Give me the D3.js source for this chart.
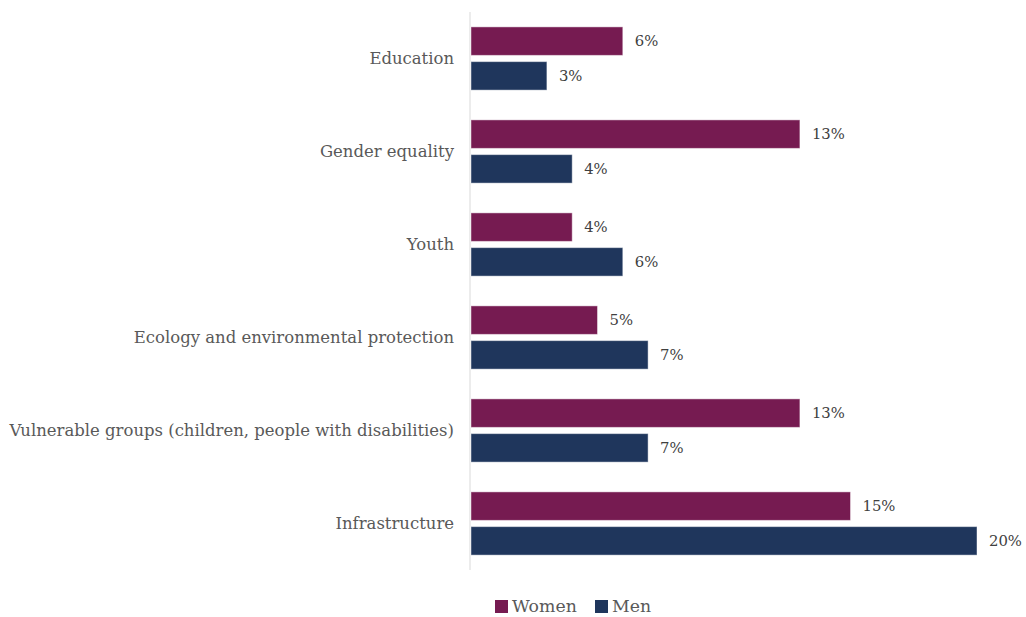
<!DOCTYPE html>
<html>
<head>
<meta charset="utf-8">
<script src="https://cdn.jsdelivr.net/npm/d3@7"></script>
<style>
  html, body { margin: 0; padding: 0; background: #fff; }
</style>
</head>
<body>
<svg id="chart" width="1026" height="617"></svg>
<script>
// Share of respondents naming each area, by gender (%)
const categories = [
  "Education",
  "Gender equality",
  "Youth",
  "Ecology and environmental protection",
  "Vulnerable groups (children, people with disabilities)",
  "Infrastructure"
];
const seriesNames = ["Women", "Men"];
const women = [6, 13, 4, 5, 13, 15];
const men   = [3, 4, 6, 7, 7, 20];
const colors = ["#761b51", "#1f365c"];

const FONT = "'DejaVu Serif', 'Liberation Serif', serif";

const svg = d3.select("#chart").attr("font-family", FONT);
const margin = { top: 12, left: 470, right: 48, bottom: 47 };
const width = 1026, height = 617;

const rows = categories.map((c, i) => ({ cat: c, values: [women[i], men[i]] }));

const y = d3.scaleBand()
  .domain(categories)
  .range([margin.top, height - margin.bottom])
  .paddingInner(0.32)
  .paddingOuter(0.16);

const ySub = d3.scaleBand()
  .domain(seriesNames)
  .range([0, y.bandwidth()])
  .paddingInner(0.18);

const x = d3.scaleLinear()
  .domain([0, 20])
  .range([margin.left, margin.left + 506]);

// Vertical category axis line
svg.append("line")
  .attr("x1", margin.left).attr("x2", margin.left)
  .attr("y1", margin.top).attr("y2", height - margin.bottom)
  .attr("stroke", "#d9d9d9").attr("stroke-width", 1);

// Category labels; the font size is tuned so the longest label spans ~445px
const yAxis = d3.axisLeft(y).tickSize(0).tickPadding(16);
const ga = svg.append("g").attr("transform", `translate(${margin.left},0)`).call(yAxis);
ga.attr("font-family", FONT);
ga.select(".domain").remove();
const catText = ga.selectAll("text")
  .attr("font-size", 16)
  .attr("fill", "#595959");
let maxW = 0;
catText.each(function () { maxW = Math.max(maxW, this.getComputedTextLength()); });
const catSize = 16 * 445 / maxW;
catText.attr("font-size", catSize);

// Bars
const groups = svg.selectAll("g.row").data(rows).join("g")
  .attr("class", "row")
  .attr("transform", d => `translate(0,${y(d.cat)})`);

groups.selectAll("rect")
  .data(d => d.values.map((v, j) => ({ name: seriesNames[j], v, j })))
  .join("rect")
  .attr("x", x(0) + 1)
  .attr("y", d => ySub(d.name))
  .attr("width", d => x(d.v) - x(0))
  .attr("height", ySub.bandwidth())
  .attr("fill", d => colors[d.j])
  .attr("stroke", "#ffffff")
  .attr("stroke-opacity", 0.45)
  .attr("stroke-width", 1);

// Value labels
groups.selectAll("text.val")
  .data(d => d.values.map((v, j) => ({ name: seriesNames[j], v, j })))
  .join("text")
  .attr("class", "val")
  .attr("x", d => x(d.v) + 13)
  .attr("y", d => ySub(d.name) + ySub.bandwidth() / 2)
  .attr("dy", "0.35em")
  .attr("font-size", catSize * 0.9)
  .attr("fill", "#404040")
  .text(d => d.v + "%");

// Legend
const legend = svg.append("g").attr("transform", "translate(495,612)");
const items = [{ name: "Women", x: 0 }, { name: "Men", x: 100 }];
items.forEach((it, i) => {
  legend.append("rect")
    .attr("x", it.x).attr("y", -12)
    .attr("width", 13).attr("height", 13)
    .attr("fill", colors[i]);
  legend.append("text")
    .attr("x", it.x + 17).attr("y", 0)
    .attr("font-size", catSize * 1.05)
    .attr("fill", "#595959")
    .text(it.name);
});
</script>
</body>
</html>
